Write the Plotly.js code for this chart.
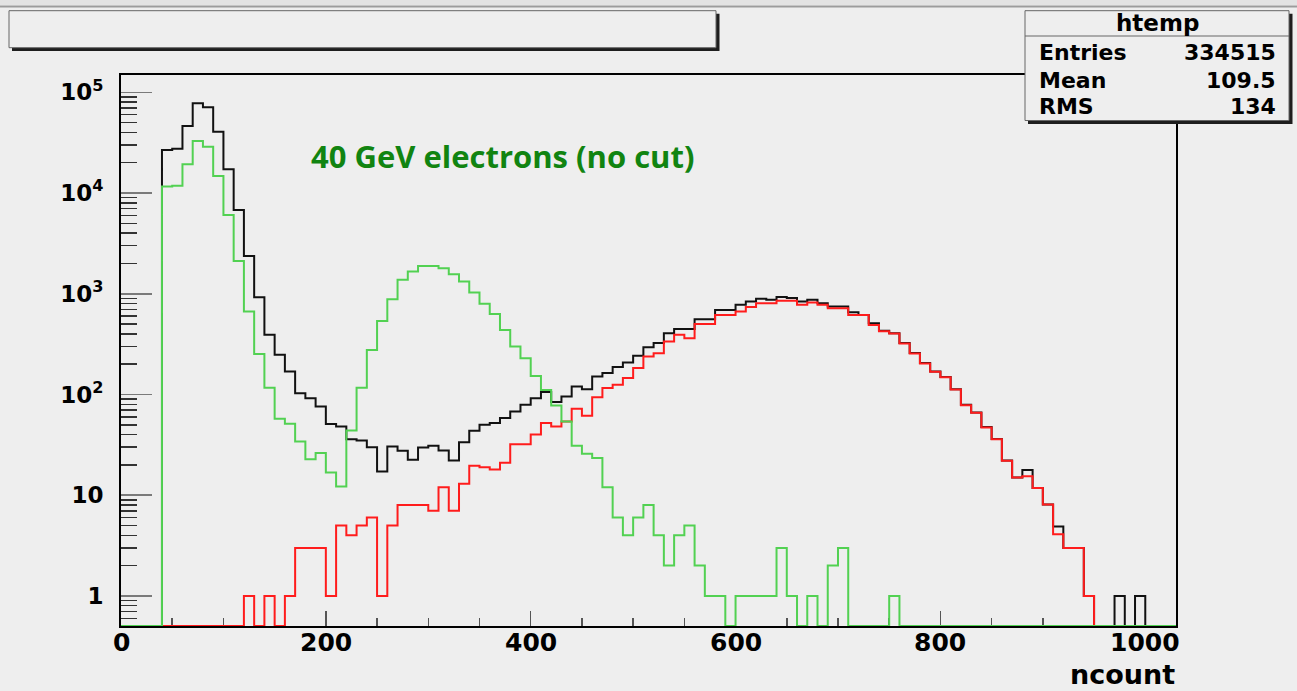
<!DOCTYPE html>
<html>
<head>
<meta charset="utf-8">
<script src="https://cdn.plot.ly/plotly-3.0.1.min.js"></script>
<style>
  html, body { margin: 0; padding: 0; background: #eeeeee; }
  #chart { width: 1297px; height: 691px; }
</style>
</head>
<body>
<div id="chart"></div>
<script>
// ---- data: 100 bins of width 10 on ncount, from 0 to 1000 ----
const BIN_WIDTH = 10;
const N_BINS = 100;

const blackCounts = [
  0, 0, 0, 0, 26800, 27500, 46300, 77800, 71000, 40600,
  17200, 6790, 2375, 925, 391, 248, 169, 103, 92, 76,
  50.8, 48.2, 36, 35, 30, 17.2, 30.5, 27.6, 22.5, 29.8,
  30.9, 27.8, 22.1, 33.6, 43.6, 50, 52, 58.3, 67.9, 79,
  92, 105.6, 84, 95.5, 120, 113, 151, 163, 187, 208,
  242, 295, 324, 406, 446, 446, 560, 560, 692, 692,
  776, 838, 890, 870, 930, 910, 838, 871, 807, 747,
  747, 657, 617, 510, 430, 406, 324, 258, 205, 169,
  149, 113, 79, 66.4, 47.5, 36.1, 22.1, 15, 17.8, 11.8,
  8.1, 4.9, 3, 3, 1, 0, 0, 1, 0, 1
];

const redCounts = [
  0, 0, 0, 0, 0, 0, 0, 0, 0, 0,
  0, 0, 1, 0, 1, 0, 1, 3, 3, 3,
  1, 5, 4, 5, 6, 1, 5, 8, 8, 8,
  7, 12, 7, 13, 19.6, 19, 18, 21, 32, 32,
  40, 52, 48, 54, 72, 61.5, 94, 116, 125, 146,
  183, 238, 257, 336, 391, 362, 502, 502, 617, 617,
  667, 737, 807, 807, 851, 851, 776, 819, 776, 720,
  720, 617, 617, 489, 425, 403, 320, 256, 203, 168,
  148, 112, 78, 66, 47, 36, 22, 15, 15.4, 11.8,
  8.1, 4.1, 3, 3, 1, 0, 0, 0, 0, 0
];

const greenCounts = [
  0, 0, 0, 0, 11600, 11800, 19300, 32900, 28800, 14800,
  6070, 2120, 667, 252, 117, 57.4, 51.2, 34.1, 22.8, 26.2,
  16.8, 12.2, 44, 117, 276, 538, 883, 1374, 1660, 1890,
  1890, 1795, 1565, 1321, 1028, 794, 631, 438, 299, 229,
  153, 111, 77.8, 54, 31, 25.8, 23.4, 12, 6, 4,
  6, 8, 4, 2, 4, 5, 2, 1, 1, 0,
  1, 1, 1, 1, 3, 1, 0, 1, 0, 2,
  3, 0, 0, 0, 0, 1, 0, 0, 0, 0,
  0, 0, 0, 0, 0, 0, 0, 0, 0, 0,
  0, 0, 0, 0, 0, 0, 0, 0, 0, 0
];

const yTickVals = [1, 10, 100, 1000, 10000, 100000];
const yTickText = ['1', '10', '10<sup>2</sup>', '10<sup>3</sup>', '10<sup>4</sup>', '10<sup>5</sup>'];
const xTickVals = [0, 200, 400, 600, 800, 1000];
const xTickText = ['0', '200', '400', '600', '800', '1000'];

const statsTitle = 'htemp';
const statsNames = ['Entries', 'Mean', 'RMS'];
const statsValues = ['334515', '109.5', '134'];
const labelText = '40 GeV electrons (no cut)';
const xTitle = 'ncount';

// ---- axis ranges ----
const X_MAX = 1030;
const Y_MIN = 0.503;
const Y_MAX_LOG = 5.172;

// ---- build step traces ----
function stepTrace(counts, color) {
  const xs = [], ys = [];
  for (let i = 0; i < N_BINS; i++) {
    xs.push(i * BIN_WIDTH);
    ys.push(counts[i] > 0 ? counts[i] : Y_MIN);
  }
  xs.push(N_BINS * BIN_WIDTH); ys.push(Y_MIN);
  xs.push(X_MAX); ys.push(Y_MIN);
  return {
    type: 'scatter', mode: 'lines', x: xs, y: ys,
    line: { shape: 'hv', color: color, width: 2 },
    hoverinfo: 'skip'
  };
}

const traces = [
  stepTrace(blackCounts, '#111111'),
  stepTrace(redCounts, '#ff1c1c'),
  stepTrace(greenCounts, '#52d152')
];

// minor tick positions on log axis (2..9 per decade)
const yMinorVals = [];
[0.1, 1, 10, 100, 1000, 10000, 100000].forEach(d => {
  for (let k = 2; k <= 9; k++) yMinorVals.push(d * k);
});

// ---- pixel -> paper helpers ----
const L = 121, R = 121, T = 75, B = 65, W = 1297, H = 691;
const PW = W - L - R, PH = H - T - B;
const px = v => (v - L) / PW;
const py = v => (H - B - v) / PH;

const BG = '#eeeeee';
const boldFont = (size, color) => ({ family: 'DejaVu Sans, Liberation Sans, Arial', size: size, color: color || '#000', weight: 'bold' });

function rect(x0, y0, x1, y1, fill, lineColor, lw) {
  return {
    type: 'rect', xref: 'paper', yref: 'paper', layer: 'above',
    x0: px(x0), x1: px(x1), y0: py(y1), y1: py(y0),
    fillcolor: fill, line: { color: lineColor || fill, width: lw === undefined ? 0 : lw }
  };
}
function hline(x0, x1, y, color, lw) {
  return {
    type: 'line', xref: 'paper', yref: 'paper', layer: 'above',
    x0: px(x0), x1: px(x1), y0: py(y), y1: py(y),
    line: { color: color, width: lw }
  };
}

const shapes = [
  rect(-2, 0, 1299, 5, '#e3e3e3'),
  hline(-2, 1299, 6.5, '#9c9c9c', 2),
  // title box with shadow
  rect(12, 13.7, 719.5, 51, '#1e1e1e'),
  rect(9, 10.7, 716, 47.7, BG, '#666666', 1),
  // stats box with shadow
  rect(1028, 13.7, 1292.5, 124, '#1e1e1e'),
  rect(1025, 10.7, 1289, 120.5, BG, '#666666', 1),
  hline(1025, 1289, 36, '#666666', 1)
];

const annotations = [
  { text: statsTitle, xref: 'paper', yref: 'paper', x: px(1157), y: py(23), xanchor: 'center', yanchor: 'middle', showarrow: false, font: boldFont(23), borderpad: 0 }
];
const rowY = [52.5, 80.5, 106.5];
statsNames.forEach((n, i) => {
  annotations.push({ text: n, xref: 'paper', yref: 'paper', x: px(1038), y: py(rowY[i]), xanchor: 'left', yanchor: 'middle', showarrow: false, font: boldFont(22), borderpad: 0 });
  annotations.push({ text: statsValues[i], xref: 'paper', yref: 'paper', x: px(1277), y: py(rowY[i]), xanchor: 'right', yanchor: 'middle', showarrow: false, font: boldFont(22), borderpad: 0 });
});
// x tick labels placed as annotations at the axis positions
xTickVals.forEach((v, i) => {
  annotations.push({ text: xTickText[i], xref: 'x', yref: 'paper', x: v, y: py(642), xanchor: 'center', yanchor: 'middle', showarrow: false, font: boldFont(25) });
});
annotations.push({ text: labelText, xref: 'paper', yref: 'paper', x: px(502), y: py(156), xanchor: 'center', yanchor: 'middle', showarrow: false,
  font: { family: 'Open Sans, Lato, sans-serif', size: 31, color: '#118411', weight: 'bold' } });
annotations.push({ text: xTitle, xref: 'paper', yref: 'paper', x: px(1177), y: py(674), xanchor: 'right', yanchor: 'middle', showarrow: false, font: boldFont(27) });

const layout = {
  width: W, height: H,
  margin: { l: L, r: R, t: T, b: B, pad: 0 },
  paper_bgcolor: BG, plot_bgcolor: BG,
  showlegend: false,
  xaxis: {
    range: [0, X_MAX], showgrid: false, zeroline: false,
    showline: true, linecolor: '#000', linewidth: 2, mirror: true,
    tickmode: 'linear', tick0: 0, dtick: 200, showticklabels: false,
    ticks: 'inside', ticklen: 15, tickwidth: 1.5, tickcolor: '#555',
    minor: { dtick: 50, tick0: 0, ticks: 'inside', ticklen: 8, tickwidth: 1.5, tickcolor: '#555', showgrid: false },
    layer: 'below traces', fixedrange: true
  },
  yaxis: {
    type: 'log', range: [Math.log10(Y_MIN), Y_MAX_LOG], showgrid: false, zeroline: false,
    showline: true, linecolor: '#000', linewidth: 2, mirror: true,
    tickmode: 'array', tickvals: yTickVals, ticktext: yTickText,
    ticks: 'inside', ticklen: 31, tickwidth: 1.5, tickcolor: '#7a7a7a',
    tickfont: boldFont(23), ticklabelstandoff: 11,
    minor: { tickmode: 'array', tickvals: yMinorVals, ticks: 'inside', ticklen: 16, tickwidth: 1.5, tickcolor: '#333', showgrid: false },
    layer: 'below traces', fixedrange: true
  },
  shapes: shapes,
  annotations: annotations
};

Plotly.newPlot('chart', traces, layout, { displayModeBar: false, staticPlot: true });
</script>
</body>
</html>
